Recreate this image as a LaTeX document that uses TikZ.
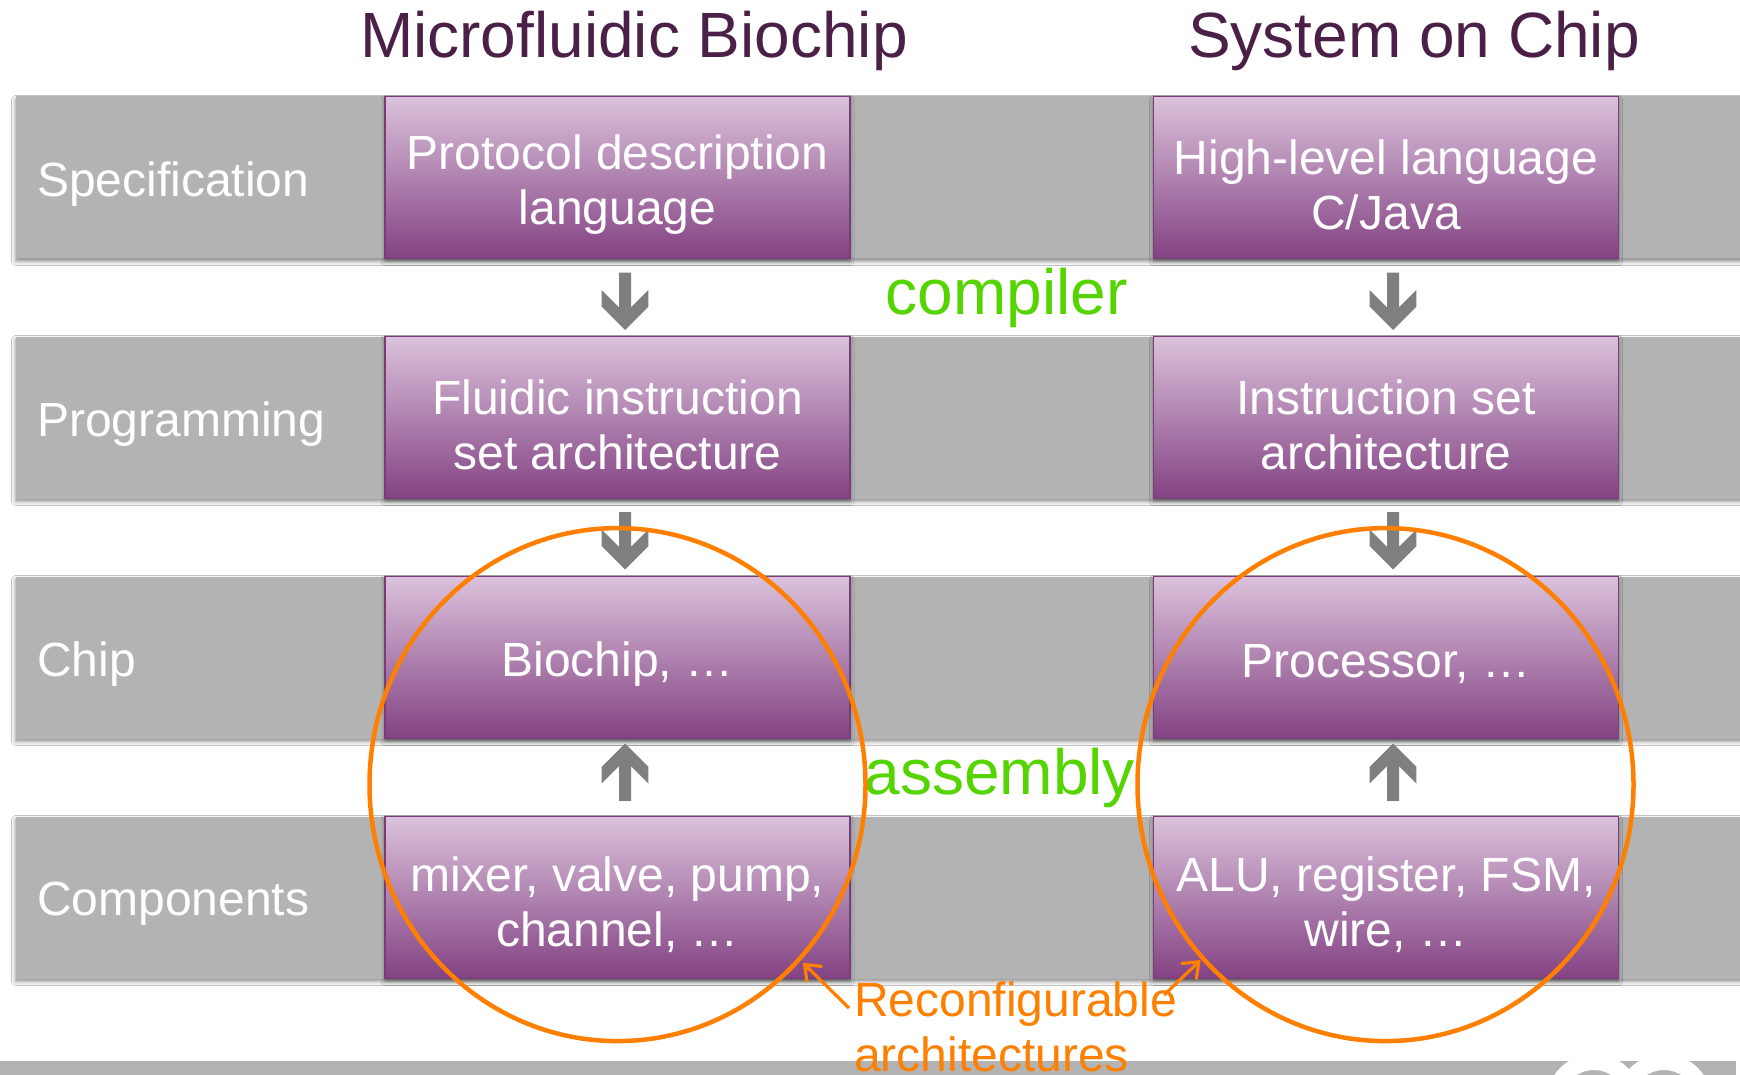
\documentclass[tikz,border=0pt]{standalone}
\usepackage{fontspec}
\setmainfont{Liberation Sans}
\usetikzlibrary{shadows.blur,shapes.geometric,arrows.meta}

\definecolor{bandgray}{HTML}{B3B3B3}
\definecolor{boxtop}{HTML}{DBC2DB}
\definecolor{boxbot}{HTML}{834283}
\definecolor{boxline}{HTML}{7A3C78}
\definecolor{titlecol}{HTML}{4B2046}
\definecolor{greentxt}{HTML}{55D500}
\definecolor{orangeln}{HTML}{FF7F00}
\definecolor{arrowgray}{HTML}{7F7F7F}

\tikzset{
  band/.style={fill=bandgray, draw=none,
    blur shadow={shadow xshift=0pt, shadow yshift=-3pt, shadow blur radius=4pt, shadow opacity=45}},
  pbox/.style={draw=boxline, line width=1.5pt, top color=boxtop, bottom color=boxbot,
    minimum width=465pt, minimum height=162pt, inner sep=0pt,
    blur shadow={shadow xshift=0pt, shadow yshift=-3pt, shadow blur radius=4pt, shadow opacity=45}},
  boxtext/.style={text=white, font=\fontsize{48}{55}\selectfont, align=center, inner sep=0pt},
  rowlabel/.style={text=white, font=\fontsize{48}{55}\selectfont, anchor=west, inner sep=0pt},
  coltitle/.style={text=titlecol, font=\fontsize{64}{70}\selectfont, anchor=base, inner sep=0pt},
  steplabel/.style={text=greentxt, font=\fontsize{64}{70}\selectfont, anchor=base, inner sep=0pt},
  ring/.style={draw=orangeln, line width=4.5pt, ellipse, inner sep=0pt,
    minimum width=496pt, minimum height=513pt},
  pointer/.style={draw=orangeln, line width=3.2pt, -{Straight Barb[length=14pt,width=22pt,line width=3.2pt]}},
  blockarrow/.style={fill=arrowgray, draw=none},
  downarrow/.pic={\path[blockarrow] (0,0) -- (23.3,-23.3) -- (23.3,-40) -- (6,-22.7) -- (6,-57.3)
      -- (-6,-57.3) -- (-6,-22.7) -- (-23.3,-40) -- (-23.3,-23.3) -- cycle;},
  uparrow/.pic={\path[blockarrow] (0,0) -- (23.3,23.3) -- (23.3,40) -- (6,22.7) -- (6,57.3)
      -- (-6,57.3) -- (-6,22.7) -- (-23.3,40) -- (-23.3,23.3) -- cycle;},
}

\begin{document}
\begin{tikzpicture}[x=1pt,y=-1pt]
\useasboundingbox (0,0) rectangle (1740,1075);
\fill[white] (0,0) rectangle (1740,1075);

% column titles
\node[coltitle] (t1) at (634,58) {Microfluidic Biochip};
\node[coltitle] (t2) at (1414,58) {System on Chip};

% gray rows
\foreach \yy in {96.5,336.5,576.5,816.5}{
  \path[band] (15.5,\yy) rectangle (1760,\yy+162);
}
\node[rowlabel] (l1) at (37,184) {Specification};
\node[rowlabel] (l2) at (37,424) {Programming};
\node[rowlabel] (l3) at (37,664) {Chip};
\node[rowlabel] (l4) at (37,904) {Components};

% purple boxes, left column
\node[pbox] (a1) at (617.5,177.5) {};
\node[pbox] (a2) at (617.5,417.5) {};
\node[pbox] (a3) at (617.5,657.5) {};
\node[pbox] (a4) at (617.5,897.5) {};
\node[boxtext] (a1t) at ([yshift=-7pt]a1.center) {Protocol description\\language};
\node[boxtext] (a2t) at ([yshift=-7pt]a2.center) {Fluidic instruction\\set architecture};
\node[boxtext] (a3t) at ([yshift=-7pt]a3.center) {Biochip, …};
\node[boxtext] (a4t) at ([yshift=-7pt]a4.center) {mixer, valve, pump,\\channel, …};

% purple boxes, right column
\node[pbox] (c1) at (1386,177.5) {};
\node[pbox] (c2) at (1386,417.5) {};
\node[pbox] (c3) at (1386,657.5) {};
\node[pbox] (c4) at (1386,897.5) {};
\node[boxtext] (c1t) at ([yshift=-7pt]c1.center) {High-level language\\C/Java};
\node[boxtext] (c2t) at ([yshift=-7pt]c2.center) {Instruction set\\architecture};
\node[boxtext] (c3t) at ([yshift=-7pt]c3.center) {Processor, …};
\node[boxtext] (c4t) at ([yshift=-7pt]c4.center) {ALU, register, FSM,\\wire, …};

% flow arrows
\pic (d1) at (625,330) {downarrow};
\pic (d2) at (625,569.5) {downarrow};
\pic (u1) at (625,743.5) {uparrow};
\pic (d3) at (1393,330) {downarrow};
\pic (d4) at (1393,569.5) {downarrow};
\pic (u2) at (1393,743.5) {uparrow};

% step labels
\node[steplabel] (comp) at (1006.7,315) {compiler};
\node[steplabel] (asm) at (999.7,794) {assembly};

% bottom bar with logo
\fill[bandgray] (0,1061) rectangle (1740,1075);
\begin{scope}
  \clip (0,1061) rectangle (1740,1075);
  \draw[white, line width=16pt] (1594,1102) circle[radius=40];
  \draw[white, line width=16pt] (1664,1102) circle[radius=40];
  \fill[white] (1736,1061) rectangle (1740,1075);
\end{scope}

% reconfigurable regions
\node[ring] (e1) at (617.5,784.6) {};
\node[ring] (e2) at (1385.5,784.6) {};

\node[text=orangeln, font=\fontsize{48}{55}\selectfont, align=left, anchor=base west, inner sep=0pt]
  (rc) at (853.8,1071.7) {Reconfigurable\\architectures};
\coordinate (p1s) at (849,1008);
\coordinate (p1e) at (802.8,962.7);
\coordinate (p2s) at (1164,995);
\coordinate (p2e) at (1200.7,960);
\draw[pointer] (p1s) -- (p1e);
\draw[pointer] (p2s) -- (p2e);
\end{tikzpicture}
\end{document}
